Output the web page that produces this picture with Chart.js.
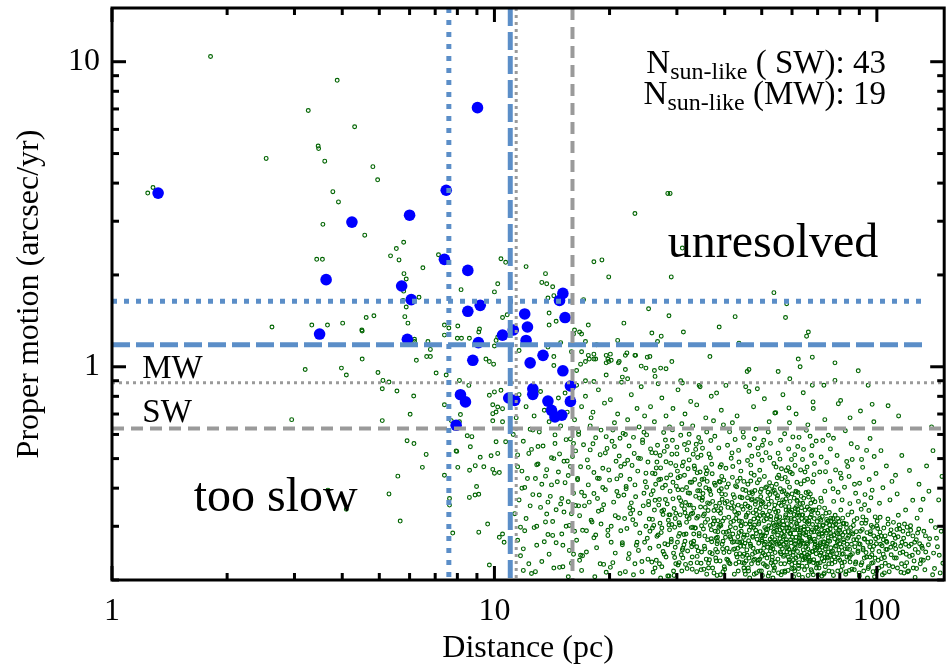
<!DOCTYPE html>
<html>
<head>
<meta charset="utf-8">
<script src="https://cdn.jsdelivr.net/npm/chart.js@4.4.0/dist/chart.umd.min.js"></script>
<style>
  html, body { margin: 0; padding: 0; background: #fff; }
</style>
</head>
<body>
<canvas id="pm" width="950" height="666"></canvas>
<script>
// axis ranges and labelled ticks
const xRange = [1, 150]
const yRange = [0.2, 15]
const xTicks = [1, 10, 100]
const yTicks = [1, 10]

// resolution limits: distance (pc) and proper motion (arcsec/yr)
const limitDist = [7.6, 11.0, 11.4, 16.0]
const limitPM = [1.64, 1.18, 0.887, 0.627]
const limitPMEnd = [133, 133, 150, 150]
const limitStyle = [
    { color: '#5b8ec8', width: 5, dash: [5, 7] },
    { color: '#5b8ec8', width: 5, dash: [18, 6] },
    { color: '#9a9a9a', width: 3, dash: [3, 4] },
    { color: '#9a9a9a', width: 4, dash: [12, 7] }
]

// sun-like stars [distance, proper motion]
const sunLike = [
    [1.32, 3.71], [9.03, 7.07], [7.48, 3.79], [6.00, 3.14], [4.24, 2.98], [3.63, 1.93], [7.40, 2.25],
    [8.52, 2.07], [5.72, 1.84], [6.06, 1.66], [8.52, 1.52], [9.18, 1.59], [3.49, 1.28], [5.92, 1.23],
    [9.08, 1.20], [8.78, 1.05], [12.0, 1.49], [12.2, 1.35], [11.2, 1.32], [10.5, 1.27], [12.1, 1.22],
    [12.4, 1.03], [13.4, 1.09], [15.1, 0.97], [15.1, 1.74], [14.8, 1.65], [15.3, 1.45], [15.8, 0.865],
    [15.8, 0.77], [12.6, 0.847], [12.6, 0.812], [13.8, 0.772], [8.15, 0.81], [8.40, 0.767], [10.9, 0.79],
    [11.3, 0.776], [14.1, 0.72], [14.4, 0.685], [15.0, 0.694], [7.94, 0.643]
]

// field stars, nearby and fast
const fieldNear = [
    [1.81, 10.4], [3.88, 8.69], [3.26, 6.92], [4.31, 6.12], [3.46, 5.29], [3.47, 5.19], [2.53, 4.82], [3.60, 4.72],
    [4.81, 4.53], [4.95, 4.10], [1.28, 3.87], [1.24, 3.71], [3.78, 3.75], [3.91, 3.47], [3.56, 2.93], [4.58, 2.70],
    [5.79, 2.56], [5.54, 2.44], [5.35, 2.31], [5.63, 2.24], [7.14, 2.33], [3.43, 2.25], [3.55, 2.25], [6.50, 2.11],
    [5.80, 2.02], [5.88, 1.94], [5.79, 1.77], [6.35, 1.69], [5.77, 1.65], [5.88, 1.57], [4.62, 1.45], [4.84, 1.47],
    [5.83, 1.46], [5.94, 1.39], [4.01, 1.39], [3.66, 1.37], [3.33, 1.37], [2.62, 1.35], [4.50, 1.32], [7.40, 1.37],
    [4.51, 1.31], [6.18, 1.23], [6.18, 1.21], [6.70, 1.21], [6.80, 1.14], [4.51, 1.06], [6.25, 1.05], [6.65, 1.08],
    [6.80, 1.08], [3.20, 0.98], [3.98, 0.99], [4.10, 0.94], [4.96, 0.958], [7.04, 0.954], [7.48, 0.94], [5.30, 0.891],
    [5.09, 0.847], [5.56, 0.833], [6.15, 0.802], [7.40, 0.751], [6.02, 0.699], [2.95, 0.671], [5.09, 0.666], [7.71, 0.666],
    [7.94, 0.530], [5.91, 0.572], [6.16, 0.560], [6.63, 0.516], [6.48, 0.468], [8.02, 0.468], [7.40, 0.441], [5.59, 0.438],
    [5.30, 0.383], [3.67, 0.394], [4.10, 0.341], [7.63, 0.370], [7.63, 0.352], [5.67, 0.312], [7.78, 0.285],
    [28.4, 3.70], [28.8, 3.70], [23.3, 3.18], [18.2, 2.21], [19.1, 2.24], [19.9, 1.97], [29.0, 1.97], [31.0, 2.45],
    [53.8, 1.75], [17.1, 1.66], [10.4, 2.26], [10.7, 2.20], [12.1, 2.13], [13.6, 2.02], [13.3, 1.89], [13.7, 1.87],
    [14.2, 1.83], [14.3, 1.71], [13.8, 1.68], [10.2, 1.87], [10.0, 1.76], [8.18, 1.79], [9.14, 1.33], [9.10, 1.30],
    [8.02, 1.36], [7.6, 1.34], [7.4, 1.27], [8.6, 1.24], [8.2, 1.24], [8.0, 1.24], [10.2, 1.25], [10.1, 1.22],
    [10.0, 1.17], [9.5, 1.06], [9.7, 1.04], [9.95, 1.02], [10.5, 1.45], [10.8, 1.48], [11.6, 1.13], [14.3, 1.01],
    [13.8, 1.16], [14.3, 1.08], [16.4, 0.972], [16.8, 1.02], [17.3, 1.04], [18.4, 1.06], [19.9, 1.04], [21.2, 1.04],
    [22.0, 1.09], [23.3, 1.09], [5.11, 0.902], [8.1, 0.902], [8.57, 0.869], [8.1, 0.806],
    [58.1, 1.61], [25.3, 1.55], [28.6, 1.47], [42.6, 1.46], [57.7, 1.45], [13.9, 1.50], [14.5, 1.41], [13.9, 1.37],
    [17.6, 1.37], [21.8, 1.39], [38.7, 1.35], [16.2, 1.32], [16.7, 1.30], [31.2, 1.30], [16.1, 1.28], [16.9, 1.28],
    [25.8, 1.29], [27.3, 1.26], [26.7, 1.21], [66.2, 1.30], [65.5, 1.26], [21.0, 1.22], [43.6, 1.195], [17.3, 1.21],
    [14.9, 1.20], [15.9, 1.12], [16.9, 1.12], [18.2, 1.10], [18.5, 1.18], [17.6, 1.09], [17.7, 1.06], [18.2, 1.06],
    [19.6, 1.09], [20.1, 1.10], [19.8, 1.06], [19.6, 1.03], [20.2, 1.05], [22.2, 1.11], [23.4, 1.09], [21.1, 1.03],
    [22.0, 0.98], [24.2, 1.005], [24.9, 0.99], [25.1, 1.075], [25.5, 1.08], [26.2, 0.972], [27.2, 0.99], [28.1, 0.985],
    [29.1, 1.04], [26.3, 0.93], [36.6, 1.08], [46.3, 0.98], [45.8, 0.965], [55.2, 0.965], [62.3, 1.06], [63.0, 1.0],
    [67.8, 1.075], [77.7, 1.03], [89.4, 0.97], [59.2, 0.913], [77.7, 0.902], [17.3, 0.90], [18.2, 0.895], [19.6, 0.94],
    [21.6, 0.925], [22.3, 0.913], [30.7, 0.90], [31.0, 0.885], [34.3, 0.869], [40.3, 0.869], [48.7, 0.847], [46.3, 0.83],
    [67.8, 0.87], [72.7, 0.87], [94.9, 0.87], [64.2, 0.822], [68.1, 0.767], [80.4, 0.775], [79.3, 0.757], [97.2, 0.753],
    [107, 0.745], [58.9, 0.733], [54.4, 0.707], [90.6, 0.716], [73.1, 0.671], [85.1, 0.68], [98.2, 0.66], [114, 0.69],
    [139, 0.635],
    [8.15, 0.697], [8.49, 0.594], [8.73, 0.59], [8.65, 0.547], [7.97, 0.528], [9.18, 0.505], [9.80, 0.511], [10.2, 0.520],
    [8.91, 0.474], [8.61, 0.458], [9.38, 0.47], [9.90, 0.461], [10.3, 0.45], [10.0, 0.448], [8.98, 0.405], [9.1, 0.382],
    [8.9, 0.38], [8.6, 0.373], [9.6, 0.305], [9.1, 0.287], [10.5, 0.283], [10.3, 0.276], [10.6, 0.266], [9.7, 0.224],
    [10.4, 0.837], [10.0, 0.827], [9.7, 0.806], [9.9, 0.751], [10.2, 0.738], [10.5, 0.729], [10.1, 0.711], [9.9, 0.702],
    [8.1, 0.66], [9.9, 0.665], [10.5, 0.66], [10.1, 0.568], [10.7, 0.568]
]

// field stars between 11 and 25 pc
const fieldInner = [
    [11.6, 0.81], [13.2, 0.83], [14.7, 0.79], [12.1, 0.74], [15.5, 0.71], [11.4, 0.68], [13.9, 0.66], [12.6, 0.62],
    [14.9, 0.64], [15.8, 0.58], [11.9, 0.57], [13.4, 0.55], [12.3, 0.52], [14.3, 0.5], [15.2, 0.49], [11.5, 0.47],
    [13.7, 0.46], [12.8, 0.43], [15.6, 0.44], [14.1, 0.41], [11.8, 0.4], [13.1, 0.38], [15.0, 0.37], [12.4, 0.35],
    [14.5, 0.34], [11.3, 0.33], [13.6, 0.31], [15.4, 0.3], [12.0, 0.29], [14.2, 0.28], [12.9, 0.26], [15.7, 0.25],
    [11.7, 0.24], [13.3, 0.23], [14.8, 0.22], [12.5, 0.21], [14.0, 0.745], [15.3, 0.82], [12.7, 0.69], [11.2, 0.6],
    [13.0, 0.48], [14.6, 0.42], [15.9, 0.33], [12.2, 0.43], [13.8, 0.36], [11.5, 0.27], [15.1, 0.26], [13.5, 0.72],
    [14.4, 0.56], [12.9, 0.3], [15.6, 0.205], [11.9, 0.215],
    [11.8, 0.455], [12.6, 0.381], [13.5, 0.267], [14.4, 0.598], [15.3, 0.417], [16.2, 0.289], [12.1, 0.318], [13.0, 0.548],
    [13.9, 0.243], [14.9, 0.355], [15.8, 0.471], [16.7, 0.232], [11.6, 0.366], [12.4, 0.624], [13.3, 0.412], [14.2, 0.311],
    [15.1, 0.221], [16.0, 0.508], [11.9, 0.253], [12.9, 0.477], [13.7, 0.329], [14.7, 0.452], [15.6, 0.361], [16.5, 0.426],
    [12.3, 0.226], [13.2, 0.346], [14.1, 0.503], [15.0, 0.283], [15.9, 0.227], [16.9, 0.388], [11.5, 0.514], [12.7, 0.297],
    [13.6, 0.438], [14.5, 0.265], [15.4, 0.577], [16.3, 0.351], [12.0, 0.402], [12.8, 0.213], [14.0, 0.376], [14.8, 0.518],
    [15.7, 0.302], [16.6, 0.613], [11.7, 0.298], [13.1, 0.611], [13.8, 0.282], [15.2, 0.334], [16.1, 0.243], [12.5, 0.536],
    [14.3, 0.219], [15.5, 0.491],
    [16.4, 0.87], [18.7, 0.84], [21.5, 0.89], [24.2, 0.86], [17.3, 0.8], [20.1, 0.78], [22.8, 0.81], [16.9, 0.74],
    [19.4, 0.76], [23.6, 0.73], [18.1, 0.71], [21.0, 0.7], [24.7, 0.69], [16.2, 0.67], [20.6, 0.655], [22.3, 0.67],
    [17.8, 0.64], [19.0, 0.62], [23.9, 0.635], [16.6, 0.6], [21.7, 0.605], [18.4, 0.585], [20.3, 0.57], [24.4, 0.575],
    [17.1, 0.555], [22.5, 0.55], [19.7, 0.54], [16.3, 0.53], [23.2, 0.52], [18.9, 0.515], [21.2, 0.51], [17.5, 0.495],
    [20.8, 0.49], [24.1, 0.5], [16.8, 0.47], [19.2, 0.465], [22.9, 0.475], [18.2, 0.45], [21.4, 0.44], [23.7, 0.455],
    [16.5, 0.43], [20.0, 0.425], [17.6, 0.41], [22.1, 0.405], [24.8, 0.42], [19.5, 0.395], [16.1, 0.385], [21.8, 0.38],
    [18.6, 0.37], [23.4, 0.375], [20.5, 0.36], [17.2, 0.35], [22.6, 0.345], [19.1, 0.34], [24.5, 0.35], [16.7, 0.325],
    [21.1, 0.32], [18.0, 0.31], [23.0, 0.315], [20.2, 0.3], [17.4, 0.29], [22.2, 0.295], [19.8, 0.28], [24.0, 0.285],
    [16.4, 0.27], [21.6, 0.265], [18.5, 0.255], [23.5, 0.26], [20.7, 0.245], [17.0, 0.24], [22.4, 0.235], [19.3, 0.225],
    [24.3, 0.23], [16.9, 0.215], [21.3, 0.21], [18.3, 0.205], [23.1, 0.208], [20.4, 0.62], [17.9, 0.68], [22.0, 0.6],
    [19.6, 0.59], [24.6, 0.61], [16.1, 0.56], [21.9, 0.48], [18.8, 0.43], [23.3, 0.41], [20.9, 0.39], [17.7, 0.36],
    [22.7, 0.33], [19.0, 0.305], [24.9, 0.3], [16.6, 0.35], [21.4, 0.29], [18.2, 0.275], [20.1, 0.22], [23.8, 0.25]
]

// field stars between 17 and 40 pc
const fieldMid = [
    [26.8, 0.88], [30.2, 0.84], [34.5, 0.86], [38.1, 0.82], [27.4, 0.79], [32.6, 0.77], [36.9, 0.8], [25.6, 0.74],
    [29.3, 0.73], [33.8, 0.75], [39.2, 0.72], [28.1, 0.69], [31.5, 0.7], [35.7, 0.68], [26.2, 0.66], [30.9, 0.65],
    [37.4, 0.665], [33.0, 0.64], [28.7, 0.635], [39.7, 0.645],
    [31.7, 0.283], [26.4, 0.412], [37.9, 0.236], [29.1, 0.517], [34.6, 0.347], [25.8, 0.229], [39.2, 0.398], [32.3, 0.601],
    [28.5, 0.314], [36.1, 0.271], [27.2, 0.466], [33.8, 0.213], [30.4, 0.372], [38.6, 0.542], [26.9, 0.258], [35.3, 0.429],
    [29.8, 0.226], [31.2, 0.487], [37.4, 0.319], [25.3, 0.353], [33.1, 0.262], [28.0, 0.575], [36.8, 0.381], [30.9, 0.214],
    [27.7, 0.339], [39.7, 0.287], [34.0, 0.504], [26.1, 0.302], [32.8, 0.418], [29.4, 0.245], [35.9, 0.611], [38.2, 0.207],
    [28.8, 0.391], [31.5, 0.332], [25.6, 0.538], [37.1, 0.446], [33.5, 0.296], [27.4, 0.221], [30.1, 0.455], [36.5, 0.233],
    [34.9, 0.365], [26.6, 0.487], [39.0, 0.331], [29.6, 0.298], [32.0, 0.249], [28.2, 0.432], [35.6, 0.309], [25.1, 0.274],
    [37.7, 0.592], [31.0, 0.395], [33.9, 0.239], [27.9, 0.263], [38.9, 0.469], [30.6, 0.327], [26.3, 0.365], [36.3, 0.219],
    [29.2, 0.621], [34.3, 0.284], [32.5, 0.352], [28.6, 0.206], [39.5, 0.253], [25.9, 0.448], [35.0, 0.541], [30.3, 0.278],
    [37.2, 0.362], [27.1, 0.307], [33.3, 0.473], [31.9, 0.218], [29.9, 0.406], [36.9, 0.292], [26.7, 0.553], [38.4, 0.313],
    [34.7, 0.227], [28.3, 0.355], [32.2, 0.564], [25.4, 0.317], [35.4, 0.258], [30.8, 0.242], [27.5, 0.401], [39.9, 0.221],
    [31.4, 0.441], [33.6, 0.376], [29.0, 0.272], [36.7, 0.503], [26.0, 0.212], [37.9, 0.349], [28.9, 0.483], [34.4, 0.411],
    [32.7, 0.297], [25.7, 0.381], [35.8, 0.234], [30.0, 0.518], [38.0, 0.274], [27.3, 0.286], [33.0, 0.331], [31.3, 0.261],
    [36.0, 0.456], [29.5, 0.343], [26.5, 0.232], [39.4, 0.368], [34.1, 0.249], [28.4, 0.261], [32.4, 0.385], [37.5, 0.211],
    [30.7, 0.596], [25.2, 0.487], [35.1, 0.384], [27.8, 0.528], [33.7, 0.557], [31.8, 0.309], [29.3, 0.369], [38.7, 0.421],
    [26.2, 0.339], [36.2, 0.338], [34.8, 0.301], [28.1, 0.238], [32.9, 0.217], [30.2, 0.433], [37.0, 0.267], [27.0, 0.367],
    [39.1, 0.302], [33.4, 0.427], [31.6, 0.359], [25.5, 0.254], [35.7, 0.467], [29.7, 0.256], [36.4, 0.397], [28.7, 0.292],
    [32.1, 0.463], [26.8, 0.281], [38.3, 0.247], [34.2, 0.586], [30.5, 0.303], [27.6, 0.248], [33.2, 0.283], [37.6, 0.415],
    [31.1, 0.236], [29.8, 0.474], [35.2, 0.325], [26.4, 0.522], [39.6, 0.268], [32.6, 0.227], [28.0, 0.409], [36.6, 0.246],
    [34.5, 0.452], [30.9, 0.351], [25.0, 0.403], [37.3, 0.305], [33.8, 0.319], [27.2, 0.203], [31.9, 0.534], [29.4, 0.214],
    [38.8, 0.357], [35.5, 0.279], [26.9, 0.426], [32.3, 0.318], [30.4, 0.228], [36.8, 0.573], [28.6, 0.327], [34.0, 0.392],
    [27.7, 0.609], [39.3, 0.437], [31.5, 0.268], [25.9, 0.296], [33.1, 0.517], [37.8, 0.289], [29.1, 0.304], [35.9, 0.209],
    [28.3, 0.548], [32.8, 0.257], [26.3, 0.446], [38.5, 0.337], [30.1, 0.266], [34.7, 0.513], [36.1, 0.358], [27.4, 0.336],
    [17.4, 0.247], [21.9, 0.318], [26.3, 0.219], [30.7, 0.364], [35.2, 0.294], [39.8, 0.246], [19.2, 0.402], [23.6, 0.266],
    [28.1, 0.488], [32.9, 0.238], [37.5, 0.338], [18.1, 0.559], [22.8, 0.358], [27.4, 0.296], [31.8, 0.402], [36.4, 0.518],
    [20.4, 0.228], [24.9, 0.448], [29.6, 0.237], [34.1, 0.323], [38.7, 0.392], [17.9, 0.314], [22.3, 0.494], [26.9, 0.352],
    [31.3, 0.282], [35.8, 0.446], [19.8, 0.291], [24.3, 0.213], [28.8, 0.327], [33.4, 0.463], [38.0, 0.231], [18.6, 0.431],
    [23.1, 0.587], [27.8, 0.243], [32.2, 0.352], [36.9, 0.273], [21.1, 0.377], [25.5, 0.289], [30.0, 0.545], [34.7, 0.216],
    [39.2, 0.477], [17.2, 0.377], [21.6, 0.261], [26.0, 0.392], [30.4, 0.308], [35.0, 0.372], [19.5, 0.522], [24.0, 0.331],
    [28.4, 0.206], [33.0, 0.298], [37.8, 0.409], [18.4, 0.281], [22.6, 0.428], [27.1, 0.512], [31.6, 0.225], [36.1, 0.316],
    [20.7, 0.325], [25.2, 0.234], [29.3, 0.418], [33.8, 0.257], [38.4, 0.288], [17.6, 0.468], [22.0, 0.213], [26.6, 0.278],
    [31.0, 0.473], [35.5, 0.253], [19.9, 0.459], [24.6, 0.385], [29.0, 0.267], [33.6, 0.536], [37.2, 0.219], [18.9, 0.226],
    [23.4, 0.304], [28.0, 0.367], [32.5, 0.418], [36.6, 0.392], [21.3, 0.583], [25.8, 0.523], [30.2, 0.224], [34.4, 0.392],
    [39.5, 0.312], [17.0, 0.291], [21.4, 0.471], [25.9, 0.316], [30.5, 0.284], [34.9, 0.427], [19.3, 0.353], [23.8, 0.501],
    [28.6, 0.303], [32.7, 0.265], [37.0, 0.479], [18.2, 0.384], [22.5, 0.244], [27.2, 0.428], [31.9, 0.323], [36.3, 0.227],
    [20.2, 0.266], [24.7, 0.266], [29.2, 0.574], [33.2, 0.344], [38.2, 0.263], [17.8, 0.534], [22.1, 0.398], [26.5, 0.466],
    [31.1, 0.254], [35.6, 0.346], [19.6, 0.212], [24.4, 0.564], [28.9, 0.442], [33.9, 0.228], [38.9, 0.419], [18.7, 0.336],
    [23.3, 0.226], [27.6, 0.328], [32.3, 0.495], [36.7, 0.302], [20.9, 0.429], [25.3, 0.362], [29.8, 0.331], [34.3, 0.279],
    [16.8, 0.241], [20.6, 0.548], [25.0, 0.598], [29.5, 0.207], [34.6, 0.567], [39.0, 0.208], [23.0, 0.339], [27.0, 0.226],
    [31.4, 0.556], [35.3, 0.217]
]

// field stars between 30 and 85 pc, the densest part of the sample
const fieldCore = [
    [41.2, 0.612], [44.8, 0.587], [48.3, 0.624], [52.7, 0.561], [57.4, 0.603], [62.1, 0.548], [66.9, 0.592], [43.5, 0.532],
    [47.1, 0.509], [50.6, 0.574], [55.2, 0.521], [59.8, 0.497], [64.3, 0.536], [68.7, 0.482], [42.0, 0.471], [45.9, 0.493],
    [49.4, 0.458], [53.8, 0.482], [58.6, 0.467], [63.2, 0.459], [67.5, 0.512], [40.7, 0.553], [46.5, 0.553], [51.3, 0.523],
    [56.0, 0.574], [61.0, 0.515], [65.7, 0.469], [69.4, 0.571], [44.1, 0.455], [48.9, 0.542], [54.5, 0.469], [60.3, 0.589],
    [42.6, 0.578], [57.9, 0.457], [52.0, 0.611], [46.8, 0.476], [63.9, 0.497], [50.1, 0.494], [55.8, 0.498], [41.6, 0.501],
    [43.1, 0.69], [47.6, 0.74], [52.3, 0.66], [56.8, 0.81], [61.5, 0.7], [66.0, 0.645], [45.4, 0.86], [50.8, 0.785],
    [59.1, 0.655], [68.2, 0.73], [41.9, 0.655], [54.1, 0.705],
    [41.8, 0.522], [46.9, 0.448], [52.5, 0.503], [58.8, 0.538], [64.9, 0.452], [71.5, 0.506], [78.0, 0.459], [85.7, 0.559],
    [44.7, 0.611], [50.2, 0.553], [56.3, 0.463], [62.6, 0.587], [68.5, 0.443], [75.6, 0.538], [83.4, 0.489], [40.3, 0.465],
    [47.8, 0.581], [54.9, 0.433], [61.1, 0.475], [67.7, 0.551], [73.4, 0.453], [80.7, 0.431], [91.2, 0.497], [43.6, 0.487],
    [49.0, 0.516], [59.4, 0.451], [65.4, 0.619], [77.0, 0.583],
    [43.7, 0.312], [58.2, 0.247], [49.6, 0.389], [65.1, 0.281], [41.3, 0.226], [53.9, 0.341], [61.8, 0.418], [46.2, 0.269],
    [68.4, 0.233], [50.9, 0.297], [56.5, 0.213], [44.4, 0.372], [62.7, 0.326], [47.8, 0.441], [59.5, 0.284], [42.5, 0.335],
    [66.3, 0.374], [54.8, 0.262], [40.4, 0.287], [51.7, 0.221], [63.6, 0.239], [48.1, 0.354], [57.1, 0.392], [45.0, 0.243],
    [69.8, 0.311], [52.4, 0.417], [60.6, 0.205], [43.0, 0.404], [55.6, 0.306], [64.7, 0.216], [49.0, 0.232], [67.2, 0.268],
    [41.8, 0.359], [58.8, 0.337], [46.9, 0.298], [53.3, 0.258], [62.0, 0.362], [44.9, 0.219], [50.3, 0.331], [65.9, 0.428],
    [56.9, 0.277], [40.9, 0.413], [59.0, 0.229], [47.3, 0.384], [63.0, 0.292], [51.1, 0.266], [68.9, 0.361], [42.2, 0.252],
    [54.3, 0.384], [61.2, 0.254], [45.6, 0.326], [57.7, 0.348], [49.9, 0.214], [66.7, 0.245], [43.3, 0.277], [52.9, 0.297],
    [60.1, 0.446], [48.6, 0.272], [64.0, 0.357], [55.1, 0.234], [41.0, 0.321], [58.4, 0.419], [46.0, 0.412], [62.4, 0.223],
    [50.0, 0.362], [67.8, 0.292], [44.2, 0.289], [53.6, 0.223], [59.8, 0.302], [47.0, 0.226], [65.4, 0.318], [56.2, 0.351],
    [42.9, 0.243], [51.9, 0.388], [61.5, 0.276], [49.2, 0.309], [63.3, 0.413], [54.0, 0.289], [45.3, 0.355], [69.1, 0.251],
    [57.4, 0.226], [40.6, 0.254], [52.1, 0.243], [60.8, 0.328], [48.4, 0.211], [66.1, 0.207], [43.9, 0.431], [55.9, 0.398],
    [62.9, 0.259], [46.6, 0.345], [58.0, 0.271], [50.6, 0.254], [64.5, 0.299], [41.5, 0.273], [53.0, 0.362], [67.5, 0.336],
    [44.6, 0.396], [59.3, 0.362], [47.7, 0.317], [61.9, 0.301], [56.0, 0.258], [42.4, 0.209], [51.4, 0.317], [65.6, 0.265],
    [49.3, 0.426], [54.6, 0.317], [63.8, 0.222], [45.8, 0.281], [60.4, 0.241], [68.0, 0.419], [43.4, 0.352], [57.0, 0.303],
    [48.8, 0.248], [52.6, 0.272], [66.5, 0.229], [40.2, 0.381], [58.6, 0.215], [46.3, 0.236], [62.2, 0.387], [50.8, 0.437],
    [55.4, 0.441], [44.0, 0.258], [64.9, 0.339], [53.5, 0.203], [59.6, 0.265], [47.4, 0.276], [61.1, 0.228], [42.7, 0.296],
    [57.8, 0.327], [49.8, 0.279], [67.0, 0.383], [54.9, 0.371], [45.1, 0.214], [63.1, 0.271], [51.6, 0.236], [69.5, 0.219],
    [41.1, 0.247], [56.4, 0.429], [48.0, 0.393], [60.0, 0.383], [43.6, 0.229], [65.0, 0.237], [52.8, 0.323], [58.9, 0.296],
    [46.8, 0.422], [62.6, 0.313], [50.2, 0.207], [55.0, 0.281], [44.7, 0.341], [66.9, 0.321], [53.1, 0.406], [61.6, 0.348],
    [47.9, 0.234], [57.3, 0.241], [42.1, 0.381], [64.2, 0.251], [49.5, 0.343], [59.1, 0.403], [45.4, 0.305], [68.6, 0.272],
    [54.2, 0.246], [40.0, 0.217], [51.0, 0.279], [62.5, 0.208], [56.7, 0.366], [48.5, 0.328], [65.3, 0.387], [43.8, 0.266],
    [60.9, 0.317], [53.7, 0.287], [46.1, 0.219], [58.1, 0.255], [67.7, 0.248], [50.4, 0.245], [41.9, 0.434], [63.5, 0.345],
    [55.7, 0.322], [45.7, 0.251], [61.3, 0.269], [52.2, 0.354], [57.6, 0.434], [44.3, 0.311], [66.0, 0.294], [49.1, 0.264],
    [59.9, 0.218], [47.2, 0.369], [54.4, 0.334], [62.8, 0.285], [42.8, 0.318], [68.2, 0.208], [51.5, 0.404], [56.1, 0.244],
    [64.6, 0.423], [46.4, 0.386], [58.5, 0.379], [40.8, 0.346], [53.2, 0.232], [60.7, 0.252], [48.2, 0.291], [65.8, 0.347],
    [55.3, 0.211], [43.2, 0.421], [62.3, 0.239], [50.7, 0.313], [57.2, 0.288], [45.5, 0.231], [69.2, 0.339], [52.5, 0.263],
    [61.4, 0.391], [47.5, 0.254], [63.7, 0.327], [54.7, 0.303], [41.4, 0.299], [59.4, 0.334], [49.7, 0.375], [66.8, 0.276],
    [44.5, 0.228], [56.6, 0.296], [51.2, 0.347], [60.2, 0.292], [46.7, 0.311], [67.3, 0.216], [53.4, 0.391], [58.7, 0.238],
    [42.3, 0.267], [64.4, 0.284], [50.5, 0.226], [55.5, 0.357], [48.7, 0.367], [62.1, 0.341], [45.2, 0.264], [57.5, 0.212],
    [43.1, 0.238], [61.7, 0.306], [52.3, 0.211], [65.2, 0.256], [47.6, 0.297], [59.7, 0.313], [54.1, 0.271], [40.5, 0.234],
    [63.4, 0.376], [49.4, 0.234], [56.3, 0.267], [44.8, 0.276], [68.8, 0.256], [51.8, 0.293], [60.5, 0.233], [46.5, 0.203],
    [58.3, 0.306], [53.8, 0.215], [66.4, 0.312], [42.0, 0.283], [57.9, 0.369], [48.9, 0.319], [62.7, 0.267], [55.8, 0.292],
    [45.9, 0.372], [64.1, 0.233], [50.1, 0.268], [61.0, 0.214], [43.5, 0.331], [52.7, 0.249],
    [39.4, 0.262], [44.1, 0.301], [48.9, 0.227], [53.2, 0.276], [57.7, 0.322], [62.4, 0.218], [67.9, 0.304], [72.8, 0.244],
    [78.3, 0.286], [83.6, 0.262], [41.7, 0.344], [46.2, 0.214], [50.4, 0.359], [55.9, 0.247], [60.8, 0.371], [65.3, 0.286],
    [70.6, 0.219], [75.1, 0.333], [80.9, 0.228], [38.6, 0.298], [43.3, 0.254], [47.5, 0.332], [52.0, 0.206], [56.8, 0.312],
    [61.3, 0.263], [66.6, 0.341], [71.7, 0.292], [76.4, 0.213], [82.0, 0.307], [40.5, 0.403], [45.0, 0.281], [49.9, 0.397],
    [54.3, 0.229], [59.2, 0.284], [63.9, 0.204], [69.0, 0.262], [73.9, 0.316], [79.6, 0.251], [84.7, 0.237], [42.8, 0.226],
    [47.0, 0.366], [51.5, 0.285], [56.1, 0.226], [60.0, 0.339], [64.8, 0.313], [68.3, 0.228], [74.6, 0.275], [77.7, 0.229],
    [39.9, 0.319], [44.6, 0.239], [49.1, 0.305], [53.9, 0.394], [58.5, 0.257], [62.9, 0.281], [67.2, 0.357], [71.2, 0.265],
    [76.9, 0.302], [81.4, 0.281], [41.3, 0.277], [46.8, 0.258], [50.9, 0.242], [55.2, 0.336], [59.9, 0.225], [64.2, 0.264],
    [69.7, 0.298], [73.3, 0.221], [79.0, 0.318], [83.1, 0.213], [38.9, 0.231], [43.9, 0.374], [48.4, 0.284], [52.7, 0.316],
    [57.3, 0.279], [61.7, 0.306], [66.0, 0.253], [70.1, 0.331], [75.8, 0.255], [80.2, 0.297], [42.2, 0.312], [46.4, 0.291],
    [51.1, 0.223], [55.6, 0.263], [60.4, 0.247], [65.6, 0.222], [69.4, 0.244], [74.2, 0.238], [78.8, 0.267], [84.2, 0.288],
    [40.1, 0.357], [45.5, 0.322], [49.6, 0.249], [54.7, 0.291], [58.9, 0.348], [63.5, 0.241], [68.6, 0.318], [72.4, 0.303],
    [77.2, 0.281], [82.6, 0.253], [43.6, 0.286], [47.8, 0.209], [52.4, 0.336], [57.0, 0.239], [61.9, 0.327], [66.9, 0.272],
    [71.9, 0.235], [75.5, 0.294], [80.6, 0.215], [39.1, 0.343], [44.9, 0.258], [50.0, 0.271], [54.0, 0.219], [58.2, 0.296],
    [63.0, 0.356], [67.6, 0.213], [72.1, 0.278], [76.1, 0.246], [81.8, 0.271], [41.0, 0.289], [46.0, 0.349], [51.8, 0.256],
    [55.0, 0.378], [59.5, 0.271], [64.5, 0.293], [68.9, 0.267], [73.6, 0.258], [78.0, 0.305], [83.9, 0.274], [42.5, 0.253],
    [47.3, 0.278], [53.5, 0.253], [57.5, 0.214], [62.0, 0.248], [66.3, 0.305], [70.8, 0.251], [74.9, 0.226], [79.3, 0.236],
    [38.3, 0.276], [43.0, 0.328], [48.0, 0.246], [52.9, 0.228], [56.4, 0.284], [61.0, 0.292], [65.0, 0.234], [69.9, 0.287],
    [73.0, 0.344], [77.9, 0.258], [82.3, 0.229], [40.8, 0.232], [45.8, 0.241], [50.6, 0.326], [55.3, 0.302], [60.6, 0.218],
    [64.0, 0.327], [68.0, 0.248], [72.6, 0.209], [76.7, 0.318], [81.1, 0.243], [44.3, 0.348], [49.3, 0.214], [53.6, 0.307],
    [58.0, 0.383], [62.7, 0.275], [67.0, 0.232], [71.4, 0.314], [75.3, 0.268], [80.0, 0.263], [84.9, 0.252], [41.9, 0.266],
    [46.6, 0.305], [51.3, 0.293], [56.6, 0.253], [61.4, 0.236], [65.9, 0.262], [70.4, 0.276], [74.4, 0.291], [78.5, 0.244],
    [39.6, 0.213], [44.4, 0.267], [49.8, 0.355], [54.5, 0.266], [59.0, 0.233], [63.3, 0.296], [67.4, 0.287], [71.0, 0.241],
    [76.3, 0.233], [79.9, 0.276], [43.4, 0.214], [48.3, 0.339], [52.2, 0.301], [57.9, 0.266], [62.2, 0.332], [66.4, 0.238],
    [70.3, 0.208], [73.7, 0.285], [77.4, 0.309], [83.3, 0.297], [45.3, 0.209], [50.3, 0.281], [54.8, 0.323], [59.3, 0.246],
    [63.7, 0.268], [68.1, 0.339], [72.0, 0.256], [75.9, 0.312], [81.6, 0.306], [47.6, 0.232], [53.0, 0.266], [58.4, 0.319],
    [64.6, 0.245], [69.5, 0.226], [74.7, 0.247], [80.4, 0.286], [42.4, 0.373], [51.9, 0.369], [61.6, 0.389], [56.2, 0.208],
    [66.2, 0.389], [47.1, 0.389], [71.6, 0.362], [37.9, 0.252],
    [31.4, 0.342], [35.7, 0.401], [40.2, 0.276], [44.9, 0.421], [49.5, 0.288], [54.1, 0.352], [59.6, 0.318], [64.4, 0.371],
    [69.3, 0.296], [74.1, 0.262], [33.2, 0.268], [37.6, 0.312], [42.3, 0.348], [46.7, 0.262], [51.2, 0.401], [55.8, 0.273],
    [60.9, 0.262], [65.7, 0.309], [70.7, 0.346], [30.6, 0.437], [34.8, 0.247], [39.3, 0.383], [43.8, 0.244], [48.2, 0.362],
    [52.8, 0.255], [57.2, 0.361], [62.0, 0.292], [66.8, 0.231], [71.8, 0.283], [32.1, 0.386], [36.5, 0.356], [41.0, 0.228],
    [45.4, 0.393], [50.0, 0.239], [54.6, 0.412], [58.9, 0.252], [63.6, 0.318], [68.4, 0.288], [73.2, 0.237], [29.7, 0.318],
    [33.9, 0.449], [38.3, 0.268], [42.7, 0.407], [47.3, 0.243], [51.9, 0.327], [56.5, 0.389], [61.2, 0.343], [65.9, 0.241],
    [70.9, 0.318], [75.7, 0.284], [31.0, 0.251], [35.4, 0.329], [39.8, 0.425], [44.2, 0.301], [48.7, 0.417], [53.3, 0.238],
    [57.9, 0.339], [62.6, 0.228], [67.4, 0.327], [72.2, 0.301], [30.2, 0.395], [34.4, 0.371], [38.8, 0.302], [43.2, 0.267],
    [47.9, 0.303], [52.5, 0.381], [57.0, 0.262], [61.8, 0.365], [66.5, 0.276], [71.1, 0.228], [32.7, 0.329], [37.1, 0.244],
    [41.5, 0.309], [46.1, 0.332], [50.8, 0.262], [55.4, 0.311], [60.1, 0.276], [64.9, 0.237], [69.8, 0.254], [74.6, 0.312],
    [36.0, 0.421], [40.6, 0.362], [45.0, 0.227], [49.4, 0.325], [54.0, 0.302], [58.6, 0.289], [63.2, 0.262], [68.0, 0.367],
    [72.9, 0.266], [33.5, 0.296]
]

// field stars beyond 70 pc
const fieldFar = [
    [72.4, 0.267], [88.1, 0.229], [79.6, 0.311], [101.3, 0.248], [74.9, 0.214], [94.2, 0.286], [83.7, 0.253], [107.5, 0.223],
    [70.8, 0.302], [91.0, 0.341], [77.3, 0.238], [98.6, 0.205], [85.5, 0.297], [73.6, 0.331], [104.0, 0.271], [81.2, 0.222],
    [95.8, 0.257], [76.0, 0.279], [89.9, 0.211], [71.5, 0.245], [100.2, 0.312], [84.0, 0.327], [92.7, 0.236], [78.4, 0.259],
    [108.9, 0.292], [87.0, 0.271], [75.2, 0.303], [96.9, 0.227], [82.6, 0.287], [102.8, 0.235], [70.2, 0.227], [90.4, 0.262],
    [79.0, 0.214], [97.5, 0.298], [86.3, 0.244], [73.0, 0.289], [105.6, 0.252], [80.5, 0.339], [93.4, 0.307], [77.8, 0.326],
    [99.3, 0.273], [84.8, 0.215], [71.1, 0.261], [94.9, 0.218], [88.7, 0.318], [76.6, 0.249], [103.4, 0.208], [82.0, 0.266],
    [91.6, 0.293], [74.3, 0.236], [100.8, 0.232], [86.8, 0.302], [78.9, 0.284], [97.0, 0.242], [72.9, 0.211], [89.3, 0.249],
    [81.7, 0.244], [106.2, 0.266], [75.8, 0.319], [93.0, 0.272], [85.1, 0.229], [70.5, 0.283], [98.1, 0.258], [83.2, 0.305],
    [101.9, 0.287], [77.0, 0.207], [90.9, 0.224], [73.3, 0.253], [95.3, 0.338], [80.0, 0.232], [87.6, 0.257], [104.7, 0.237],
    [72.0, 0.323], [92.1, 0.251], [84.4, 0.278], [99.8, 0.214], [76.3, 0.226], [88.4, 0.288], [79.3, 0.269], [96.4, 0.267],
    [71.8, 0.206], [102.2, 0.262], [82.9, 0.209], [94.5, 0.203], [86.0, 0.334], [74.6, 0.269], [100.5, 0.295], [78.1, 0.296],
    [91.3, 0.307], [80.8, 0.256], [97.8, 0.228], [73.9, 0.307], [89.6, 0.276], [85.8, 0.262], [75.5, 0.241], [103.0, 0.222],
    [81.4, 0.319], [93.7, 0.246], [87.3, 0.216], [107.0, 0.305], [70.0, 0.258], [96.1, 0.283], [83.5, 0.238], [77.6, 0.273],
    [92.4, 0.214], [99.0, 0.322], [79.9, 0.291], [105.1, 0.279], [86.5, 0.283], [72.7, 0.231],
    [73.1, 0.391], [84.6, 0.437], [96.5, 0.372], [78.7, 0.512], [91.8, 0.468], [103.7, 0.401], [70.9, 0.452], [88.0, 0.385],
    [81.1, 0.366], [99.5, 0.447], [75.4, 0.421], [94.0, 0.532], [86.2, 0.497], [108.2, 0.366], [72.2, 0.573], [82.3, 0.403],
    [97.2, 0.394], [77.1, 0.362], [90.1, 0.415], [105.9, 0.473], [85.0, 0.356], [74.0, 0.486], [101.6, 0.357], [80.3, 0.448],
    [93.1, 0.381], [71.3, 0.371], [88.9, 0.544], [98.4, 0.508], [76.8, 0.398], [83.9, 0.471], [95.5, 0.427], [109.5, 0.421],
    [79.2, 0.388], [92.9, 0.353], [87.4, 0.412], [74.7, 0.596], [102.5, 0.531], [82.7, 0.617], [96.0, 0.582], [89.5, 0.362],
    [85.4, 0.241], [90.6, 0.289], [95.1, 0.221], [99.7, 0.263], [104.3, 0.296], [109.0, 0.242], [113.6, 0.277], [118.4, 0.222],
    [123.0, 0.262], [128.7, 0.294], [87.2, 0.313], [92.0, 0.254], [96.7, 0.302], [101.1, 0.219], [105.8, 0.268], [110.5, 0.309],
    [115.0, 0.245], [120.0, 0.298], [125.1, 0.231], [131.5, 0.254], [86.1, 0.217], [91.4, 0.228], [97.3, 0.251], [102.6, 0.279],
    [107.7, 0.213], [112.0, 0.253], [117.0, 0.289], [121.8, 0.239], [127.0, 0.218], [134.0, 0.279], [88.5, 0.271], [93.8, 0.314],
    [98.9, 0.236], [103.9, 0.243], [108.3, 0.283], [113.2, 0.219], [118.9, 0.262], [124.2, 0.279], [129.4, 0.263], [85.9, 0.286],
    [90.0, 0.206], [94.7, 0.266], [100.0, 0.301], [105.2, 0.227], [110.0, 0.264], [114.3, 0.303], [119.4, 0.243], [126.0, 0.252],
    [132.3, 0.232], [89.2, 0.246], [94.0, 0.238], [98.2, 0.279], [103.2, 0.259], [106.9, 0.317], [111.2, 0.236], [116.3, 0.266],
    [121.0, 0.214], [127.8, 0.285], [136.4, 0.261], [87.9, 0.226], [92.6, 0.273], [97.7, 0.213], [102.0, 0.321], [108.7, 0.256],
    [112.8, 0.293], [117.8, 0.211], [122.5, 0.301], [130.6, 0.233], [91.9, 0.322], [96.2, 0.288], [100.9, 0.276], [106.4, 0.252],
    [111.8, 0.274], [116.0, 0.226], [120.7, 0.283], [125.6, 0.266], [89.7, 0.263], [95.9, 0.238], [104.6, 0.211], [115.4, 0.258],
    [112.4, 0.236], [126.8, 0.271], [141.5, 0.218], [118.1, 0.305], [134.2, 0.247], [147.3, 0.289], [115.6, 0.212], [129.9, 0.226],
    [144.0, 0.257], [121.3, 0.258], [138.6, 0.312], [110.7, 0.281], [124.5, 0.219], [132.7, 0.289], [148.8, 0.227], [116.9, 0.247],
    [136.1, 0.236], [127.4, 0.319], [143.2, 0.274], [113.8, 0.326], [122.6, 0.291], [139.9, 0.208], [119.7, 0.228], [131.0, 0.258],
    [145.6, 0.241], [111.5, 0.261], [128.3, 0.246], [137.4, 0.273], [117.5, 0.274], [125.9, 0.204], [142.3, 0.297], [114.7, 0.294],
    [133.5, 0.216], [120.4, 0.213], [146.4, 0.211], [130.2, 0.339], [110.1, 0.221], [123.8, 0.241], [140.7, 0.245], [118.9, 0.339],
    [113.0, 0.383], [128.9, 0.412], [145.1, 0.366], [121.7, 0.457], [136.8, 0.391], [116.2, 0.512], [132.1, 0.368], [148.0, 0.437],
    [124.1, 0.365], [140.2, 0.531], [111.9, 0.441], [134.9, 0.473]
]

// region labels and the sun-like counts
const noteText = ['unresolved', 'too slow', 'MW', 'SW']
const noteAt = [[53.5, 2.29], [2.68, 0.336], [1.2, 0.92], [1.2, 0.661]]
const countText = ['( SW): 43', '(MW): 19']
const countAt = [[105.6, 9.2], [105.6, 7.29]]

const serif = "'Liberation Serif', 'Times New Roman', serif"
const toXY = list => list.map(p => ({ x: p[0], y: p[1] }))
const fieldStars = [...fieldNear, ...fieldInner, ...fieldMid, ...fieldCore, ...fieldFar]

const datasets = []
limitDist.forEach((d, i) => {
    const st = limitStyle[i]
    datasets.push({
        data: [{ x: d, y: yRange[1] }, { x: d, y: yRange[0] }],
        showLine: true, pointRadius: 0, borderColor: st.color, borderWidth: st.width,
        borderDash: st.dash, borderCapStyle: 'butt', order: 0
    })
})
limitPM.forEach((v, i) => {
    const st = limitStyle[i]
    datasets.push({
        data: [{ x: xRange[0], y: v }, { x: limitPMEnd[i], y: v }],
        showLine: true, pointRadius: 0, borderColor: st.color, borderWidth: st.width,
        borderDash: st.dash, borderCapStyle: 'butt', order: 0
    })
})
datasets.push({
    data: toXY(sunLike), pointRadius: 5.8, borderWidth: 0,
    backgroundColor: '#0000ff', order: 1
})
datasets.push({
    data: toXY(fieldStars), pointRadius: 1.9, borderWidth: 1.15,
    borderColor: '#006400', backgroundColor: 'rgba(0,0,0,0)', order: 2
})

// black frame with inward major and minor ticks on all four sides
const frame = {
    id: 'frame',
    afterDatasetsDraw(chart) {
        const { ctx, chartArea: a, scales: { x, y } } = chart
        ctx.save()
        ctx.strokeStyle = '#000'
        ctx.lineWidth = 3
        const mark = (x0, y0, x1, y1) => {
            ctx.beginPath(); ctx.moveTo(x0, y0); ctx.lineTo(x1, y1); ctx.stroke()
        }
        ;[1, 10, 100].forEach(d => {
            for (let m = 1; m <= 9; m++) {
                const v = d * m
                if (v < xRange[0] || v > xRange[1]) continue
                const px = x.getPixelForValue(v)
                const len = m === 1 ? 14 : 7
                mark(px, a.bottom, px, a.bottom - len)
                mark(px, a.top, px, a.top + len)
            }
        })
        ;[0.1, 1, 10].forEach(d => {
            for (let m = 1; m <= 9; m++) {
                const v = d * m
                if (v < yRange[0] || v > yRange[1]) continue
                const py = y.getPixelForValue(v)
                const len = m === 1 ? 14 : 7
                mark(a.left, py, a.left + len, py)
                mark(a.right, py, a.right - len, py)
            }
        })
        ctx.strokeRect(a.left, a.top, a.right - a.left, a.bottom - a.top)
        ctx.restore()
    }
}

const notes = {
    id: 'notes',
    afterDatasetsDraw(chart) {
        const { ctx, scales: { x, y } } = chart
        ctx.save()
        ctx.fillStyle = '#000'
        ctx.textBaseline = 'alphabetic'
        noteText.forEach((t, i) => {
            const big = i < 2
            ctx.font = (big ? 48 : 33) + 'px ' + serif
            ctx.textAlign = big ? 'center' : 'left'
            ctx.fillText(t, x.getPixelForValue(noteAt[i][0]), y.getPixelForValue(noteAt[i][1]))
        })
        // N with a "sun-like" subscript, right aligned
        ctx.textAlign = 'left'
        countText.forEach((t, i) => {
            const right = x.getPixelForValue(countAt[i][0])
            const base = y.getPixelForValue(countAt[i][1])
            ctx.font = '33px ' + serif
            const wN = ctx.measureText('N').width
            const wT = ctx.measureText(' ' + t).width
            ctx.font = '24px ' + serif
            const wS = ctx.measureText('sun-like').width
            const left = right - wN - wS - wT
            ctx.font = '33px ' + serif
            ctx.fillText('N', left, base)
            ctx.font = '24px ' + serif
            ctx.fillText('sun-like', left + wN, base + 6)
            ctx.font = '33px ' + serif
            ctx.fillText(' ' + t, left + wN + wS, base)
        })
        ctx.restore()
    }
}

new Chart(document.getElementById('pm'), {
    type: 'scatter',
    data: { datasets },
    options: {
        responsive: false,
        devicePixelRatio: 1,
        animation: false,
        events: [],
        layout: { padding: { left: 0, right: 5, top: 8, bottom: 0 } },
        plugins: { legend: { display: false }, tooltip: { enabled: false } },
        scales: {
            x: {
                type: 'logarithmic',
                min: xRange[0],
                max: xRange[1],
                afterBuildTicks: s => { s.ticks = xTicks.map(v => ({ value: v })) },
                afterFit: s => { s.height = 86; s.paddingLeft = 0; s.paddingRight = 0 },
                grid: { display: false, drawTicks: false },
                border: { display: false },
                ticks: {
                    padding: 12,
                    color: '#000',
                    font: { family: serif, size: 32 },
                    callback: v => String(v)
                },
                title: {
                    display: true,
                    text: 'Distance (pc)',
                    color: '#000',
                    font: { family: serif, size: 32 },
                    padding: { top: 0, bottom: -2 }
                }
            },
            y: {
                type: 'logarithmic',
                min: yRange[0],
                max: yRange[1],
                afterBuildTicks: s => { s.ticks = yTicks.map(v => ({ value: v })) },
                afterFit: s => { s.width = 112; s.paddingTop = 0; s.paddingBottom = 0 },
                grid: { display: false, drawTicks: false },
                border: { display: false },
                ticks: {
                    padding: 12,
                    color: '#000',
                    font: { family: serif, size: 32 },
                    callback: v => String(v)
                },
                title: {
                    display: true,
                    text: 'Proper motion (arcsec/yr)',
                    color: '#000',
                    font: { family: serif, size: 32 },
                    padding: { top: 10, bottom: 0 }
                }
            }
        }
    },
    plugins: [frame, notes]
})
</script>
</body>
</html>
